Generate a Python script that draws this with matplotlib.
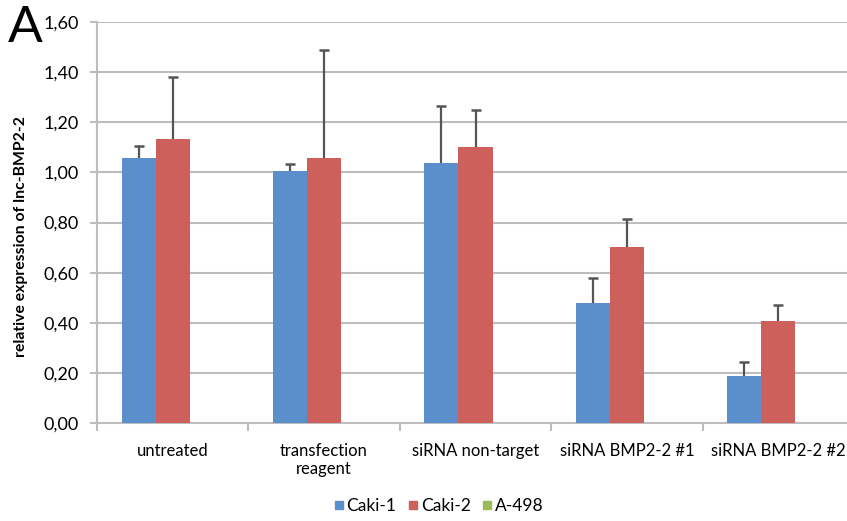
#Grouped bar chart with upward error bars (relative expression)

from matplotlib import pyplot as plt
from matplotlib.lines import Line2D
import numpy as np

plt.rcParams['font.family'] = ['Lato', 'DejaVu Sans']

#the data
groups = ['untreated', 'transfection\nreagent', 'siRNA non-target',
          'siRNA BMP2-2 #1', 'siRNA BMP2-2 #2']
caki1 = [1.056, 1.005, 1.037, 0.478, 0.188]
caki1_err = [0.050, 0.028, 0.227, 0.102, 0.058]
caki2 = [1.131, 1.056, 1.102, 0.702, 0.406]
caki2_err = [0.247, 0.430, 0.145, 0.111, 0.064]
a498 = [0, 0, 0, 0, 0]
series_names = ['Caki-1', 'Caki-2', 'A-498']
colors = ['#5B8FCB', '#CD605B', '#9BBB59']
yticks = [0.0, 0.2, 0.4, 0.6, 0.8, 1.0, 1.2, 1.4, 1.6]

fig = plt.figure(figsize=(8.47, 5.21), dpi=100)
ax = fig.add_axes([97/847, 1 - 423.3/521, (854 - 97)/847, (423.3 - 21.7)/521])

x = np.arange(len(groups))
w = 0.225
ax.bar(x - w, caki1, w, color=colors[0], zorder=3)
ax.bar(x, caki2, w, color=colors[1], zorder=3)
ax.bar(x + w, a498, w, color=colors[2], zorder=3)

#error bars only upward, cap only on top
for xs, vals, errs in [(x - w, caki1, caki1_err), (x, caki2, caki2_err)]:
    vals = np.array(vals)
    errs = np.array(errs)
    ax.vlines(xs, vals, vals + errs, color='#555555', linewidth=1.6, zorder=4)
    ax.plot(xs, vals + errs, linestyle='none', marker='_', markersize=7,
            markeredgewidth=1.8, color='#555555', zorder=4)

ax.set_xlim(-0.5, len(groups) - 0.5)
ax.set_ylim(0, 1.6)
ax.set_yticks(yticks)
ax.set_yticklabels([('%.2f' % v).replace('.', ',') for v in yticks], fontsize=13)
ax.yaxis.grid(True, color='#BDBDBD', linewidth=1.5, zorder=0)
ax.tick_params(axis='y', length=5, color='#BDBDBD', width=1.5, pad=8)

#group boundaries as major ticks, labels on minor ticks
ax.set_xticks(np.arange(len(groups) + 1) - 0.5)
ax.set_xticklabels([])
ax.set_xticks(x, minor=True)
ax.set_xticklabels(groups, minor=True, fontsize=12)
ax.tick_params(axis='x', which='major', length=6, color='#BDBDBD', width=1.5)
ax.tick_params(axis='x', which='minor', length=0, pad=14)

for s in ['top', 'right']:
    ax.spines[s].set_visible(False)
for s in ['left', 'bottom']:
    ax.spines[s].set_color('#BDBDBD')
    ax.spines[s].set_linewidth(1.5)

ax.set_ylabel('relative expression of lnc-BMP2-2', fontsize=11.3, fontweight='bold')
ax.yaxis.set_label_coords(-0.091, 0.464)

handles = [Line2D([], [], linestyle='none', marker='s', markersize=5.5,
                  markerfacecolor=c, markeredgecolor=c, label=n)
           for c, n in zip(colors, series_names)]
fig.legend(handles=handles, loc='center', bbox_to_anchor=(439/847, 1 - 506/521),
           ncol=3, frameon=False, fontsize=12.5, handlelength=0.5,
           handletextpad=0.2, columnspacing=0.7)

fig.text(8/847, 1 - 42/521, 'A', fontsize=37)

fig.savefig('out.png', dpi=100)
